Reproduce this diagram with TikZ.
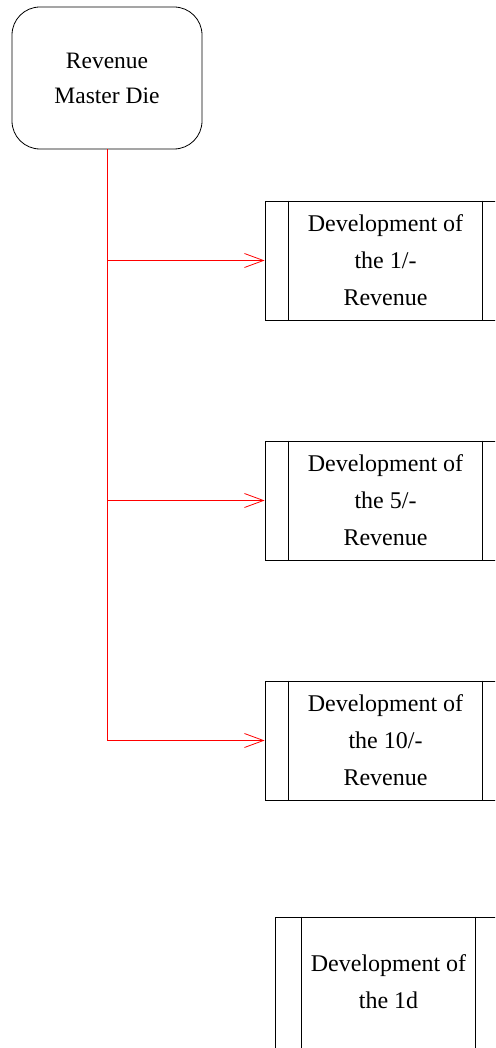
\documentclass[tikz,border=0pt]{standalone}
\usepackage{fontspec}
\setmainfont{Liberation Serif}
\usetikzlibrary{arrows.meta}
\tikzset{
  master/.style={draw=black, line width=0.8pt, rounded corners=28pt, minimum width=190pt, minimum height=142pt, align=center, font=\fontsize{23.5}{35}\selectfont, inner sep=0pt},
  procbox/.style={draw=black, line width=0.8pt, minimum width=241pt, minimum height=119pt, align=center, font=\fontsize{24}{37}\selectfont, inner sep=0pt},
  link/.style={draw=red, line width=0.8pt},
  arr/.style={link, -{Straight Barb[length=19pt,width=14pt,line width=0.8pt]}},
}
\begin{document}
\begin{tikzpicture}[x=1pt,y=-1pt]
\useasboundingbox (0,0) rectangle (495,1048);
\clip (0,0) rectangle (495,1048);
\node[master] (m) at (107,78) {Revenue\\Master Die};
\node[procbox] (b1) at (385.5,260.5) {Development of\\the 1/-\\Revenue};
\node[procbox] (b2) at (385.5,500.5) {Development of\\the 5/-\\Revenue};
\node[procbox] (b3) at (385.5,740.5) {Development of\\the 10/-\\Revenue};
\node[procbox, minimum width=227pt, minimum height=166pt] (b4) at (388.5,1000) {Development of\\the 1d\\~};
\foreach \b in {b1,b2,b3}{
  \draw[line width=0.8pt] ([xshift=24pt]\b.north west) -- ([xshift=24pt]\b.south west);
  \draw[line width=0.8pt] ([xshift=-24pt]\b.north east) -- ([xshift=-24pt]\b.south east);
}
\draw[line width=0.8pt] ([xshift=27pt]b4.north west) -- ([xshift=27pt]b4.south west);
\draw[line width=0.8pt] ([xshift=-27pt]b4.north east) -- ([xshift=-27pt]b4.south east);
\coordinate (j1) at (m.south |- b1.west);
\coordinate (j2) at (m.south |- b2.west);
\coordinate (j3) at (m.south |- b3.west);
\draw[link] (m.south) -- (j3);
\draw[arr] (j1) -- (b1.west);
\draw[arr] (j2) -- (b2.west);
\draw[arr] (j3) -- (b3.west);
\end{tikzpicture}
\end{document}
